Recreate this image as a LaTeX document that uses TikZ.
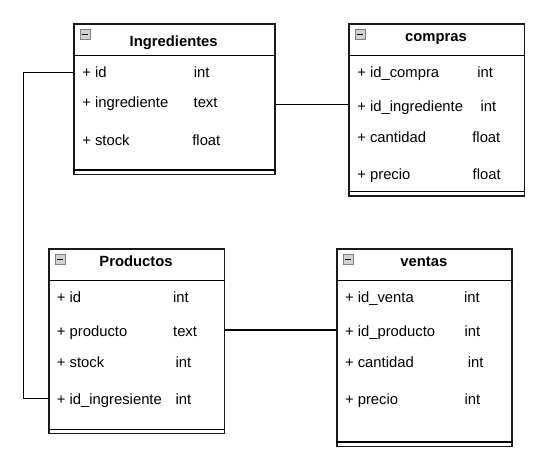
\documentclass[tikz,border=0pt]{standalone}
\usepackage{fontspec}
\setmainfont{Liberation Sans}
\begin{document}
\begin{tikzpicture}[x=1pt, y=-1pt, line width=1.3pt,
  tbl/.style = {draw=black!90, rectangle, anchor=north west, inner sep=0},
  ttl/.style = {anchor=base, inner sep=0, font=\fontsize{14.8}{17}\selectfont\bfseries},
  fld/.style = {anchor=base west, inner sep=0, font=\fontsize{14.8}{17}\selectfont},
  icn/.style = {draw=gray, fill=gray!35, minimum size=10pt, inner sep=0, line width=0.6pt,
    path picture={\draw[black, line width=1.3pt] ([xshift=2pt]path picture bounding box.west) -- ([xshift=-2pt]path picture bounding box.east);}}]
  \useasboundingbox (0,0) rectangle (552,456);

  % Ingredientes
  \node[tbl, minimum width=201pt, minimum height=150.5pt] (ing) at (73.3,23.3) {};
  \draw ([yshift=-32.4pt]ing.north west) -- ([yshift=-32.4pt]ing.north east);
  \draw ([yshift=5pt]ing.south west) -- ([yshift=5pt]ing.south east);
  \node[icn] (ingicn) at ([xshift=12pt,yshift=-11pt]ing.north west) {};
  \node[ttl] (ingt) at (173.7,46) {Ingredientes};
  \node[fld] (ing1) at (81.7,77.7) {+ id};
  \node[fld] (ing1t) at (193.3,77.7) {int};
  \node[fld] (ing2) at (81.7,107.7) {+ ingrediente};
  \node[fld] (ing2t) at (193,107.7) {text};
  \node[fld] (ing3) at (81.7,145.7) {+ stock};
  \node[fld] (ing3t) at (191.7,145.7) {float};

  % compras
  \node[tbl, minimum width=175.7pt, minimum height=172pt] (cmp) at (348.3,23.3) {};
  \draw ([yshift=-32.4pt]cmp.north west) -- ([yshift=-32.4pt]cmp.north east);
  \draw ([yshift=5pt]cmp.south west) -- ([yshift=5pt]cmp.south east);
  \node[icn] (cmpicn) at ([xshift=12pt,yshift=-11pt]cmp.north west) {};
  \node[ttl] (cmpt) at (436,41.7) {compras};
  \node[fld] (cmp1) at (356.7,77.7) {+ id\_compra};
  \node[fld] (cmp1t) at (476.7,77.7) {int};
  \node[fld] (cmp2) at (356.7,111) {+ id\_ingrediente};
  \node[fld] (cmp2t) at (480,111) {int};
  \node[fld] (cmp3) at (356.7,142.7) {+ cantidad};
  \node[fld] (cmp3t) at (471.7,142.7) {float};
  \node[fld] (cmp4) at (356.7,179) {+ precio};
  \node[fld] (cmp4t) at (472,179) {float};

  % Productos
  \node[tbl, minimum width=175.4pt, minimum height=184.7pt] (prod) at (48.2,248.3) {};
  \draw ([yshift=-32.4pt]prod.north west) -- ([yshift=-32.4pt]prod.north east);
  \draw ([yshift=5pt]prod.south west) -- ([yshift=5pt]prod.south east);
  \node[icn] (prodicn) at ([xshift=12pt,yshift=-11pt]prod.north west) {};
  \node[ttl] (prodt) at (136,266.7) {Productos};
  \node[fld] (prod1) at (56.3,302.7) {+ id};
  \node[fld] (prod1t) at (172.5,302.7) {int};
  \node[fld] (prod2) at (56.3,336) {+ producto};
  \node[fld] (prod2t) at (172.5,336) {text};
  \node[fld] (prod3) at (56.3,367.7) {+ stock};
  \node[fld] (prod3t) at (175,367.7) {int};
  \node[fld] (prod4) at (56.3,404) {+ id\_ingresiente};
  \node[fld] (prod4t) at (175,404) {int};

  % ventas
  \node[tbl, minimum width=175pt, minimum height=197.4pt] (ven) at (336.3,248.3) {};
  \draw ([yshift=-32.4pt]ven.north west) -- ([yshift=-32.4pt]ven.north east);
  \draw ([yshift=5pt]ven.south west) -- ([yshift=5pt]ven.south east);
  \node[icn] (venicn) at ([xshift=12pt,yshift=-11pt]ven.north west) {};
  \node[ttl] (vent) at (423.8,266.7) {ventas};
  \node[fld] (ven1) at (344.4,302.7) {+ id\_venta};
  \node[fld] (ven1t) at (463.4,302.7) {int};
  \node[fld] (ven2) at (344.4,336) {+ id\_producto};
  \node[fld] (ven2t) at (464,336) {int};
  \node[fld] (ven3) at (344.4,367.7) {+ cantidad};
  \node[fld] (ven3t) at (467.3,367.7) {int};
  \node[fld] (ven4) at (344.4,404) {+ precio};
  \node[fld] (ven4t) at (464,404) {int};

  % relaciones
  \coordinate (lnkA) at (0,104.3);
  \coordinate (lnkB) at (0,330);
  \coordinate (lft) at (23.6,398.3);
  \draw (ing.east |- lnkA) -- (cmp.west |- lnkA);
  \draw (prod.east |- lnkB) -- (ven.west |- lnkB);
  \draw (ing.west |- ing1) -- (lft |- ing1) -- (lft) -- (prod.west |- lft);
\end{tikzpicture}
\end{document}
